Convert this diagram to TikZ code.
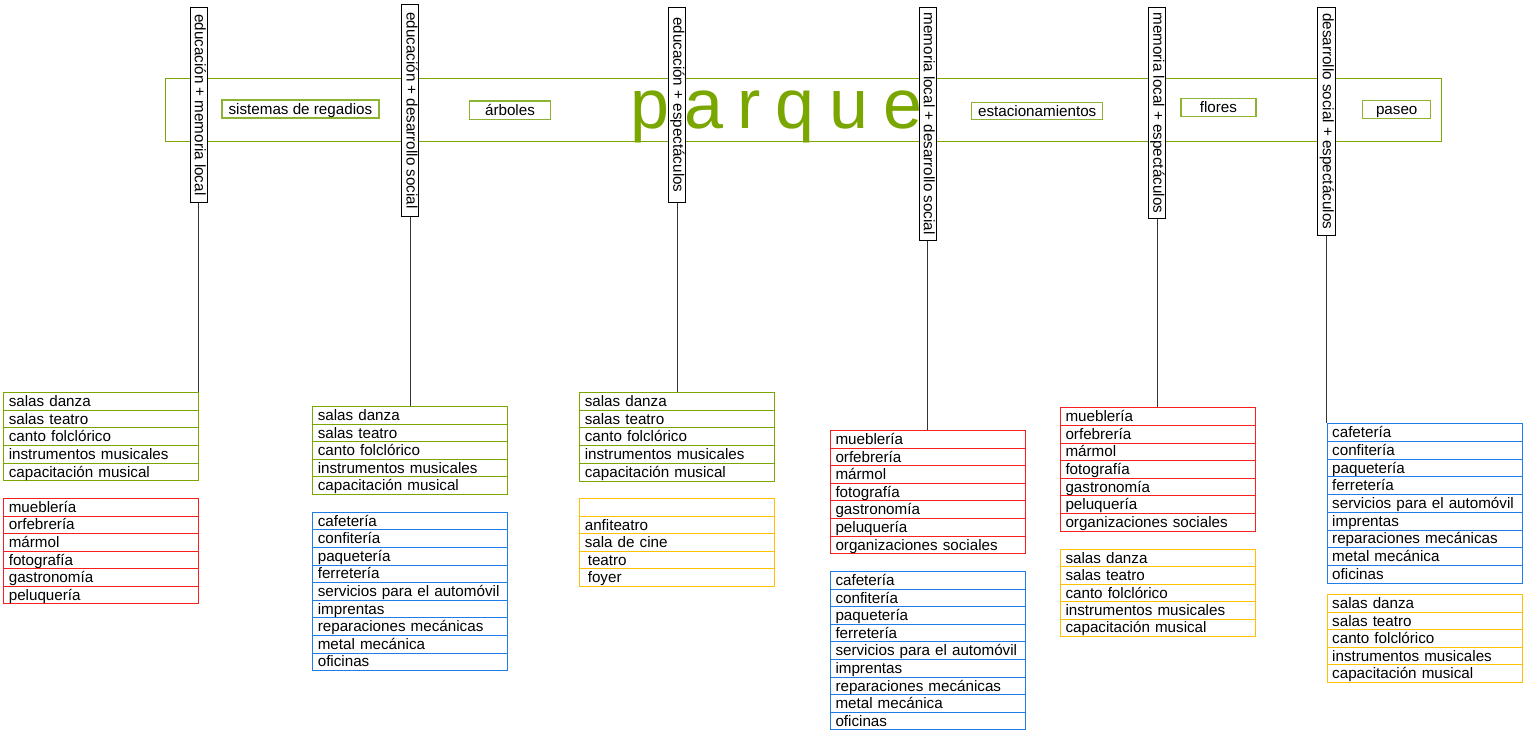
\documentclass[tikz,border=0pt]{standalone}
\usepackage{fontspec}
\setmainfont{Liberation Sans}
\definecolor{pgreen}{RGB}{122,166,0}
\definecolor{bgreen}{RGB}{140,180,50}
\definecolor{lred}{RGB}{250,30,30}
\definecolor{lblue}{RGB}{30,125,230}
\definecolor{lyel}{RGB}{255,192,0}
\newcommand\mklist[6]{%
  \foreach \t [count=\i] in {#6}{%
    \node[listrow, draw=#2, minimum height=#5pt, anchor=north west] (#1-\i) at ({#3},{#4+(\i-1)*#5}) {\t};
  }}
\begin{document}
\begin{tikzpicture}[x=1pt,y=-1pt,
  every node/.style={font=\fontsize{15.2}{18}\selectfont},
  listrow/.style={line width=1pt, inner xsep=5pt, inner ysep=0pt, text width=185pt, align=left, text height=13.8pt, text depth=3.6pt},
  vbox/.style={draw=black, fill=white, line width=1pt, rotate=-90, minimum height=17.3pt, inner sep=0pt, text height=11pt, text depth=3.5pt},
  ibox/.style={draw=bgreen, line width=1.5pt, inner sep=0pt, text height=12pt, text depth=2pt},
  conn/.style={draw=black!80, line width=1pt}]
\useasboundingbox (0,0) rectangle (1523,729);
% band
\draw[pgreen, line width=1pt] (165,78.3) rectangle (1441.7,141.3);
\node[anchor=base west, inner sep=0pt, text=pgreen, font=\fontsize{70}{80}\selectfont\addfontfeature{LetterSpace=21}] (parque) at (630.4,128.3) {parque};
\node[ibox, minimum width=157.3pt, minimum height=18pt] (reg) at (300.4,109) {sistemas de regadios};
\node[ibox, minimum width=81.4pt, minimum height=18.3pt] (arb) at (510,110.2) {árboles};
\node[ibox, minimum width=131pt, minimum height=16.6pt] (est) at (1037.2,111) {estacionamientos};
\node[ibox, minimum width=75.3pt, minimum height=18pt] (flo) at (1218.4,107.7) {flores};
\node[ibox, minimum width=68pt, minimum height=18pt] (pas) at (1396.7,109.7) {paseo};
% vertical boxes
\node[vbox, minimum width=195pt] (v1) at (198.7,104.8) {educación + memoria local};
\node[vbox, minimum width=212.4pt] (v2) at (410.3,110.5) {educación + desarrollo social};
\node[vbox, minimum width=195pt] (v3) at (677.2,104.8) {educación + espectáculos};
\node[vbox, minimum width=232.7pt] (v4) at (927.7,123.7) {memoria local + desarrollo social};
\node[vbox, minimum width=211pt] (v5) at (1157.2,112.8) {memoria local + espectáculos};
\node[vbox, minimum width=227.7pt] (v6) at (1326.5,121.2) {desarrollo social + espectáculos};
% lists
\mklist{c1a}{pgreen}{3.3}{392}{17.65}{salas danza,salas teatro,canto folclórico,instrumentos musicales,capacitación musical}
\mklist{c1b}{lred}{3.3}{498}{17.55}{mueblería,orfebrería,mármol,fotografía,gastronomía,peluquería}
\mklist{c2a}{pgreen}{312.3}{406}{17.6}{salas danza,salas teatro,canto folclórico,instrumentos musicales,capacitación musical}
\mklist{c2b}{lblue}{312.3}{511.7}{17.6}{cafetería,confitería,paquetería,ferretería,servicios para el automóvil,imprentas,reparaciones mecánicas,metal mecánica,oficinas}
\mklist{c3a}{pgreen}{579.3}{391.7}{17.8}{salas danza,salas teatro,canto folclórico,instrumentos musicales,capacitación musical}
\mklist{c3b}{lyel}{579.3}{498.3}{17.5}{{},anfiteatro,sala de cine,{\hspace{3pt}teatro},{\hspace{3pt}foyer}}
\mklist{c4a}{lred}{830}{430}{17.6}{mueblería,orfebrería,mármol,fotografía,gastronomía,peluquería,organizaciones sociales}
\mklist{c4b}{lblue}{830}{571}{17.6}{cafetería,confitería,paquetería,ferretería,servicios para el automóvil,imprentas,reparaciones mecánicas,metal mecánica,oficinas}
\mklist{c5a}{lred}{1060}{407.3}{17.6}{mueblería,orfebrería,mármol,fotografía,gastronomía,peluquería,organizaciones sociales}
\mklist{c5b}{lyel}{1060}{549}{17.4}{salas danza,salas teatro,canto folclórico,instrumentos musicales,capacitación musical}
\mklist{c6a}{lblue}{1326.7}{423.3}{17.7}{cafetería,confitería,paquetería,ferretería,servicios para el automóvil,imprentas,reparaciones mecánicas,metal mecánica,oficinas}
\mklist{c6b}{lyel}{1326.7}{594.3}{17.5}{salas danza,salas teatro,canto folclórico,instrumentos musicales,capacitación musical}
% connectors
\draw[conn] (v1.east) -- (v1.east |- c1a-1.north);
\draw[conn] (v2.east) -- (v2.east |- c2a-1.north);
\draw[conn] (v3.east) -- (v3.east |- c3a-1.north);
\draw[conn] (v4.east) -- (v4.east |- c4a-1.north);
\draw[conn] (v5.east) -- (v5.east |- c5a-1.north);
\draw[conn] (v6.east) -- (v6.east |- c6a-1.north);
\end{tikzpicture}
\end{document}
